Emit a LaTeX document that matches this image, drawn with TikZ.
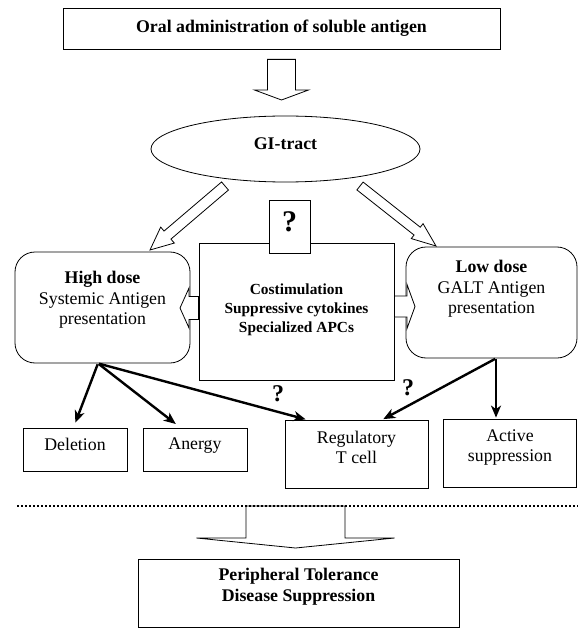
\documentclass[tikz,border=0pt]{standalone}
\usepackage{fontspec}
\setmainfont{Liberation Serif}
\usetikzlibrary{positioning,shapes.geometric,arrows.meta,calc}
\tikzset{line/.style={draw, -{Stealth[length=12pt,width=10pt,inset=3.5pt]}, line width=2.4pt, shorten <=1bp, shorten >=1bp}}
\newcommand{\fatarrow}[5]{% tail, tip, half shaft, half head, head length
  \coordinate (fa) at ($(#2)!#5!(#1)$);
  \draw[fill=white, line width=0.8pt] ($(#1)!#3!90:(#2)$) -- ($(fa)!#3!90:(#2)$) -- ($(fa)!#4!90:(#2)$) -- (#2)
    -- ($(fa)!#4!-90:(#2)$) -- ($(fa)!#3!-90:(#2)$) -- ($(#1)!#3!-90:(#2)$) -- cycle;}

\begin{document}
\begin{tikzpicture}[x=1pt, y=-1pt,
  main/.style = {draw, line width=0.8pt, inner sep=0pt},
  round/.style = {main, rounded corners=20pt},
  txt/.style = {font=\fontsize{17.8}{20.5}\selectfont},
  bold/.style = {font=\fontsize{17.8}{20.5}\selectfont\bfseries},
  small/.style = {font=\fontsize{15.4}{19}\selectfont\bfseries},
  quest/.style = {font=\fontsize{24}{24}\selectfont\bfseries}]
\useasboundingbox (0,0) rectangle (578,628);
\node[main, bold, minimum width=437pt, minimum height=41pt] (1) at (281.5,28.5) {Oral administration of soluble antigen};
\node[main, ellipse, bold, minimum width=269pt, minimum height=66pt, text depth=11pt] (2) at (285.5,149) {GI-tract};
\node[main, minimum width=195pt, minimum height=137pt] (3) at (296.5,311.5) {};
\node[small, align=center] (3t) at (296.5,310) {Costimulation\\Suppressive cytokines\\Specialized APCs};
\node[main, fill=white, minimum width=41pt, minimum height=53pt, font=\fontsize{30}{30}\selectfont\bfseries, text depth=9pt] (4) at (289.5,226.5) {?};
\node[round, minimum width=175pt, minimum height=111pt] (5) at (102.5,307.5) {};
\node[txt, align=center] (5t) at (102.5,300) {\textbf{High dose}\\Systemic Antigen\\presentation};
\node[round, minimum width=171pt, minimum height=111pt] (6) at (491.5,302.5) {};
\node[txt, align=center] (6t) at (491.5,289) {\textbf{Low dose}\\GALT Antigen\\presentation};
\node[main, txt, minimum width=104pt, minimum height=43pt, text depth=11pt] (7) at (75,449.5) {Deletion};
\node[main, txt, minimum width=104pt, minimum height=43pt, text depth=11pt] (8) at (195,449.5) {Anergy};
\node[main, minimum width=143pt, minimum height=68pt] (9) at (356.5,454) {};
\node[txt, align=center] (9t) at (356.5,447.5) {Regulatory\\T cell};
\node[main, minimum width=133pt, minimum height=68pt] (10) at (510,453) {};
\node[txt, align=center] (10t) at (510,447.5) {Active\\suppression};
\node[main, minimum width=321pt, minimum height=68pt] (11) at (298.5,593) {};
\node[bold, align=center] (11t) at (298.5,586.5) {Peripheral Tolerance\\Disease Suppression};
\node[quest] (q1) at (278,394) {?};
\node[quest] (q2) at (408,388) {?};

% hollow arrows
\coordinate (t1) at ([yshift=-10pt]1.south);
\coordinate (t2) at (281.5,100);
\coordinate (l1) at (225,186);
\coordinate (l2) at (150,250);
\coordinate (r1) at (360,186);
\coordinate (r2) at (436,246);
\coordinate (m1) at ([yshift=3.5pt]3.west);
\coordinate (m2) at (180,308);
\coordinate (n1) at ([yshift=5pt]3.east);
\coordinate (n2) at (415,306.5);
\coordinate (b1) at (295.5,506);
\coordinate (b2) at (295.5,548);
\fatarrow{t1}{t2}{14pt}{27pt}{10pt}
\fatarrow{l1}{l2}{5.3pt}{10.5pt}{23pt}
\fatarrow{r1}{r2}{5pt}{9.5pt}{24pt}
\fatarrow{m1}{m2}{11.5pt}{20pt}{9pt}
\fatarrow{n1}{n2}{10.5pt}{22pt}{8pt}
\fatarrow{b1}{b2}{49.5pt}{99pt}{10pt}

% thick arrows
\coordinate (o1) at ([xshift=-4.5pt]5.south);
\coordinate (o2) at ([xshift=4.5pt]6.south);
\draw[line] (o1) -- ([yshift=4pt]7.north);
\draw[line] (o1) -- ([xshift=34pt,yshift=3pt]8.north west);
\draw[line] (o1) -- ([xshift=22pt]9.north west);
\draw[line] (o2) -- ([xshift=-46pt]9.north east);
\draw[line] (o2) -- (o2 |- 10.north);

% dotted separator
\coordinate (d1) at (17,506);
\coordinate (d2) at (578,506);
\draw[line width=2pt, dash pattern=on 2pt off 2pt] (d1) -- (d2);
\end{tikzpicture}
\end{document}
